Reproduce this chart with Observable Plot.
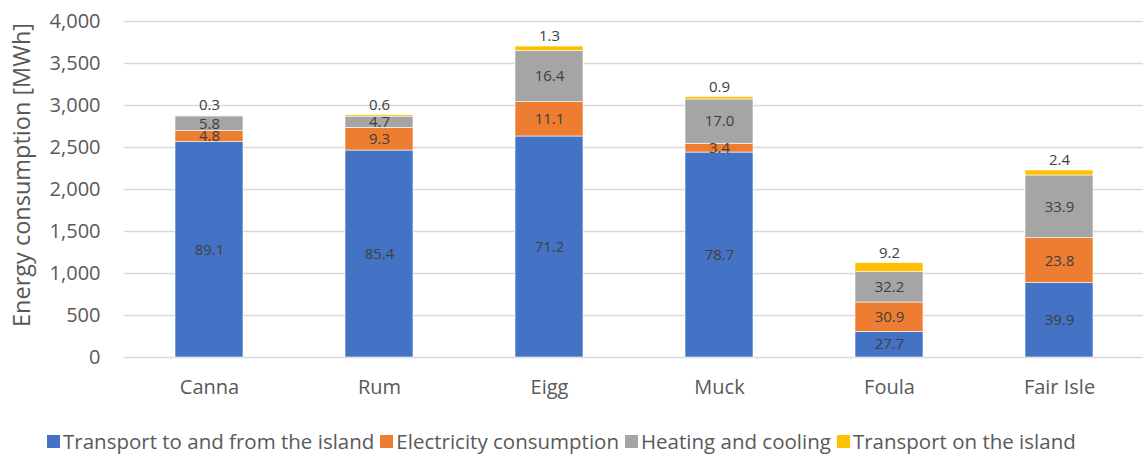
<!DOCTYPE html>
<html>
<head>
<meta charset="utf-8">
<script src="https://cdn.jsdelivr.net/npm/d3@7"></script>
<script src="https://cdn.jsdelivr.net/npm/@observablehq/plot@0.6"></script>
<style>
  html, body { margin: 0; padding: 0; background: #fff; }
  body { width: 1143px; height: 454px; overflow: hidden; font-family: "Open Sans", sans-serif; position: relative; }
  #legend { position: absolute; left: 47px; top: 428px; height: 26px; font-size: 20.5px; color: #595959; display: flex; }
  .item { display: flex; align-items: center; white-space: nowrap; height: 26px; margin-right: 6px; }
  .sw { width: 13px; height: 13px; margin-right: 3px; }
</style>
</head>
<body>
<div id="chart"></div>
<div id="legend"></div>
<script>
const islands = ["Canna", "Rum", "Eigg", "Muck", "Foula", "Fair Isle"];
const seriesNames = ["Transport to and from the island", "Electricity consumption", "Heating and cooling", "Transport on the island"];
const colors = ["#4472c4", "#ed7d31", "#a5a5a5", "#ffc000"];
// MWh values
const transportTo = [2563, 2464, 2631, 2440, 306, 885];
const electricity = [132, 268, 409, 105, 349, 535];
const heating = [175, 136, 607, 527, 361, 747];
const transportOn = [9, 17, 55, 28, 107, 59];
// percentage labels
const pctTransportTo = ["89.1", "85.4", "71.2", "78.7", "27.7", "39.9"];
const pctElectricity = ["4.8", "9.3", "11.1", "3.4", "30.9", "23.8"];
const pctHeating = ["5.8", "4.7", "16.4", "17.0", "32.2", "33.9"];
const pctTransportOn = ["0.3", "0.6", "1.3", "0.9", "9.2", "2.4"];
const yTicks = [0, 500, 1000, 1500, 2000, 2500, 3000, 3500, 4000];

const valueSets = [transportTo, electricity, heating, transportOn];
const labelSets = [pctTransportTo, pctElectricity, pctHeating, pctTransportOn];
const data = [];
seriesNames.forEach((s, si) => {
  islands.forEach((isl, i) => {
    data.push({island: isl, series: s, si, value: valueSets[si][i], label: labelSets[si][i]});
  });
});

const font = "'Open Sans', sans-serif";
const chart = Plot.plot({
  width: 1143,
  height: 415,
  marginLeft: 124,
  marginRight: -2,
  marginTop: 21,
  marginBottom: 58,
  style: {fontFamily: font, fontSize: "20px", color: "#595959", background: "#fff"},
  x: {domain: islands, paddingInner: 0.6, paddingOuter: 0.3, label: null, tickSize: 0, tickPadding: 22},
  y: {domain: [0, 4000], ticks: yTicks, tickFormat: d3.format(","), label: null, tickSize: 0, tickPadding: 24},
  color: {domain: seriesNames, range: colors},
  marks: [
    Plot.gridY(yTicks, {stroke: "#d9d9d9", strokeOpacity: 1, strokeWidth: 1.5}),
    Plot.barY(data, {x: "island", y: "value", fill: "series", z: "series", order: seriesNames, stroke: "#ffffff", strokeWidth: 0.6}),
    Plot.text(data, Plot.stackY({x: "island", y: "value", z: "series", order: seriesNames,
      text: d => d.si < 3 ? d.label : "", fill: "#404040", fontSize: 15})),
    Plot.text(data, Plot.stackY2({x: "island", y: "value", z: "series", order: seriesNames,
      text: d => d.si === 3 ? d.label : "", fill: "#404040", fontSize: 15, dy: -10})),
    Plot.axisY({ticks: yTicks, tickFormat: d3.format(","), tickSize: 0, tickPadding: 24, label: null, fontSize: 20}),
    Plot.axisX({tickSize: 0, tickPadding: 22, label: null, fontSize: 20})
  ]
});
document.getElementById("chart").appendChild(chart);

// y-axis title
const svg = d3.select(chart);
svg.append("text")
  .attr("transform", "translate(24,175) rotate(-90)")
  .attr("text-anchor", "middle")
  .attr("dominant-baseline", "middle")
  .attr("fill", "#595959")
  .style("font-size", "23.5px")
  .style("font-family", font)
  .text("Energy consumption [MWh]");

const legend = document.getElementById("legend");
seriesNames.forEach((s, i) => {
  const it = document.createElement("div");
  it.className = "item";
  it.innerHTML = `<div class="sw" style="background:${colors[i]}"></div><span>${s}</span>`;
  legend.appendChild(it);
});
</script>
</body>
</html>
